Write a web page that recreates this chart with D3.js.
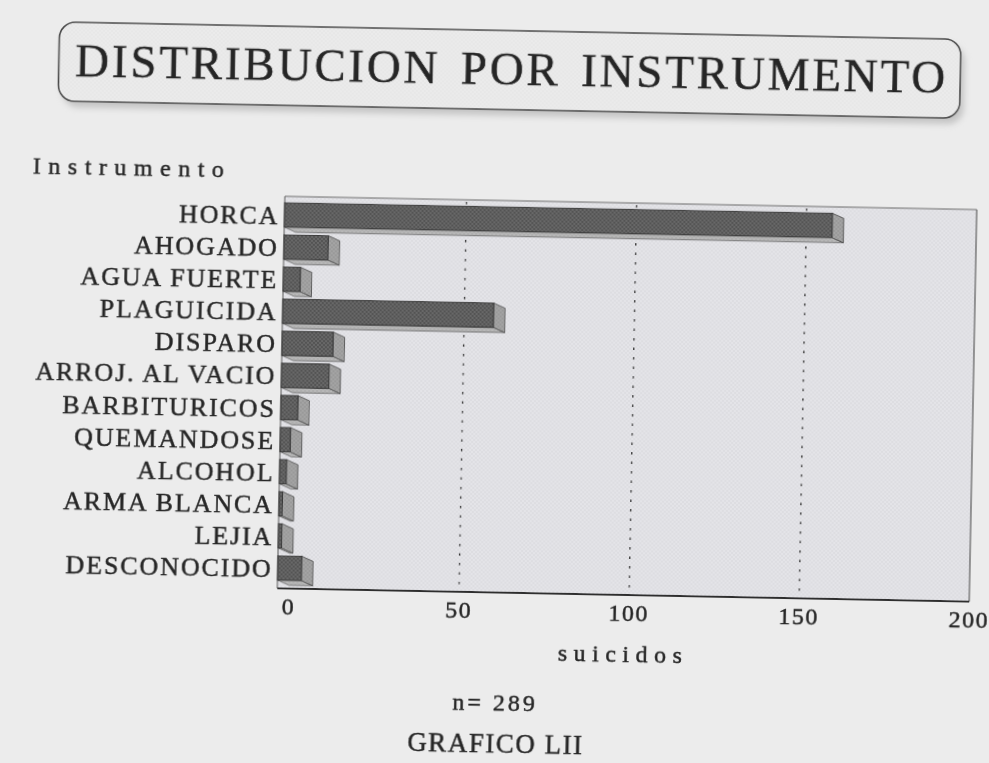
<!DOCTYPE html>
<html>
<head>
<meta charset="utf-8">
<script src="https://cdn.jsdelivr.net/npm/d3@7"></script>
<style>
  html, body { margin: 0; padding: 0; background: #ececec; }
  svg { display: block; }
  text { font-family: "Liberation Serif", "Times New Roman", serif; fill: #262626;
         stroke: #262626; stroke-width: 0.45; paint-order: stroke; }
</style>
</head>
<body>
<svg id="chart" width="989" height="763"></svg>
<script>
// Suicides by method (n = 289)
const categories = ["HORCA", "AHOGADO", "AGUA FUERTE", "PLAGUICIDA", "DISPARO", "ARROJ. AL VACIO",
                    "BARBITURICOS", "QUEMANDOSE", "ALCOHOL", "ARMA BLANCA", "LEJIA", "DESCONOCIDO"];
const suicidos = [161, 13, 5, 62, 15, 14, 5, 3, 2, 1, 1, 7];
const xTicks = [0, 50, 100, 150, 200];
const gridTicks = [50, 100, 150];
const titleText = "DISTRIBUCION POR INSTRUMENTO";
const yAxisTitle = "Instrumento";
const xAxisTitle = "suicidos";
const totalLabel = "n= 289";
const figureLabel = "GRAFICO LII";

const W = 989, H = 763;
const depth = { dx: 11.5, dy: 5 };                 // 3-D extrusion of bars / back wall
const frame = { x0: 281, x1: 973, y0: 203, y1: 595 };

const svg = d3.select("#chart");
const defs = svg.append("defs");

// halftone-like dot textures
function dotPattern(id, base, dot, size, r) {
  const p = defs.append("pattern").attr("id", id).attr("patternUnits", "userSpaceOnUse")
    .attr("width", size).attr("height", size);
  p.append("rect").attr("width", size).attr("height", size).attr("fill", base);
  p.append("circle").attr("cx", size * 0.25).attr("cy", size * 0.25).attr("r", r).attr("fill", dot);
  p.append("circle").attr("cx", size * 0.75).attr("cy", size * 0.75).attr("r", r).attr("fill", dot);
}
dotPattern("frontTex", "#686868", "#4a4a4a", 4, 0.9);
dotPattern("sideTex", "#a4a4a4", "#8c8c8c", 4, 0.8);
dotPattern("bottomTex", "#b8b8b8", "#a4a4a4", 4, 0.8);
dotPattern("wallTex", "#e4e4e8", "#d5d5da", 4, 0.8);
dotPattern("boxTex", "#ebebeb", "#e0e0e0", 4, 0.7);

const soft = defs.append("filter").attr("id", "soft");
soft.append("feGaussianBlur").attr("stdDeviation", 0.45);
const shadow = defs.append("filter").attr("id", "shadow").attr("x", "-5%").attr("y", "-20%")
  .attr("width", "110%").attr("height", "150%");
shadow.append("feGaussianBlur").attr("stdDeviation", 3);

svg.append("rect").attr("width", W).attr("height", H).attr("fill", "#ececec");

// whole sheet sits slightly skewed on the scanner
const g = svg.append("g").attr("transform", "rotate(1.1, 630, 400)").attr("filter", "url(#soft)");

// ---- title banner ----
const box = { x: 52.5, y: 33, w: 901.5, h: 79, r: 16 };
g.append("rect").attr("x", box.x + 4).attr("y", box.y + 6).attr("width", box.w).attr("height", box.h)
  .attr("rx", box.r).attr("fill", "#c4c4c4").attr("filter", "url(#shadow)");
g.append("rect").attr("x", box.x).attr("y", box.y).attr("width", box.w).attr("height", box.h)
  .attr("rx", box.r).attr("fill", "url(#boxTex)").attr("stroke", "#4a4a4a").attr("stroke-width", 1.6);
g.append("text").attr("x", box.x + box.w / 2 + 2).attr("y", 87)
  .attr("text-anchor", "middle").attr("font-size", 47)
  .attr("letter-spacing", 2.8).attr("word-spacing", 6)
  .style("stroke-width", 0.6)
  .text(titleText);

// ---- scales ----
const x = d3.scaleLinear().domain([0, 200]).range([frame.x0, frame.x1 - depth.dx]);
const y = d3.scaleBand().domain(categories).range([205.5, 590.7])
  .paddingInner(0.24).paddingOuter(0.12);

// ---- plot frame (back wall) ----
g.append("rect").attr("x", frame.x0).attr("y", frame.y0)
  .attr("width", frame.x1 - frame.x0).attr("height", frame.y1 - frame.y0)
  .attr("fill", "url(#wallTex)");

g.selectAll("line.grid").data(gridTicks).join("line").attr("class", "grid")
  .attr("x1", d => x(d) + depth.dx).attr("x2", d => x(d) + depth.dx)
  .attr("y1", frame.y0 + 2).attr("y2", frame.y1)
  .attr("stroke", "#383838").attr("stroke-width", 1.4).attr("stroke-dasharray", "2.5,7");

g.append("line").attr("x1", frame.x0).attr("x2", frame.x1).attr("y1", frame.y0).attr("y2", frame.y0)
  .attr("stroke", "#6a6a6a").attr("stroke-width", 1.2);
g.append("line").attr("x1", frame.x1).attr("x2", frame.x1).attr("y1", frame.y0).attr("y2", frame.y1)
  .attr("stroke", "#5a5a5a").attr("stroke-width", 1.2);
g.append("line").attr("x1", frame.x0).attr("x2", frame.x0).attr("y1", frame.y0).attr("y2", frame.y1)
  .attr("stroke", "#555").attr("stroke-width", 1);
g.append("line").attr("x1", frame.x0).attr("x2", frame.x1).attr("y1", frame.y1).attr("y2", frame.y1)
  .attr("stroke", "#2e2e2e").attr("stroke-width", 1.8);

// ---- 3-D bars ----
const bars = g.selectAll("g.bar").data(categories.map((c, i) => ({ c, v: suicidos[i] })))
  .join("g").attr("class", "bar");

bars.append("polygon")   // underside
  .attr("points", d => {
    const x0 = x(0), x1 = x(d.v), yb = y(d.c) + y.bandwidth();
    return [[x0, yb], [x1, yb], [x1 + depth.dx, yb + depth.dy], [x0 + depth.dx, yb + depth.dy]].join(" ");
  })
  .attr("fill", "url(#bottomTex)").attr("stroke", "#555").attr("stroke-width", 0.7);

bars.append("polygon")   // end face
  .attr("points", d => {
    const x1 = x(d.v), yt = y(d.c), yb = yt + y.bandwidth();
    return [[x1, yt], [x1 + depth.dx, yt + depth.dy], [x1 + depth.dx, yb + depth.dy], [x1, yb]].join(" ");
  })
  .attr("fill", "url(#sideTex)").attr("stroke", "#444").attr("stroke-width", 0.8);

bars.append("rect")      // front face
  .attr("x", x(0)).attr("y", d => y(d.c))
  .attr("width", d => x(d.v) - x(0)).attr("height", y.bandwidth())
  .attr("fill", "url(#frontTex)").attr("stroke", "#333").attr("stroke-width", 0.9);

// ---- category labels ----
g.selectAll("text.cat").data(categories).join("text").attr("class", "cat")
  .attr("x", 276).attr("y", d => y(d) + y.bandwidth() / 2)
  .attr("dy", "0.36em").attr("text-anchor", "end")
  .attr("font-size", 26).attr("letter-spacing", 1.9)
  .text(d => d);

// ---- value axis labels ----
g.selectAll("text.tick").data(xTicks).join("text").attr("class", "tick")
  .attr("x", d => x(d) + depth.dx).attr("y", 621)
  .attr("text-anchor", "middle").attr("font-size", 24).attr("letter-spacing", 1.5)
  .text(d => d);

g.append("text").attr("x", 28.6).attr("y", 184.5)
  .attr("font-size", 24).attr("letter-spacing", 7.5).text(yAxisTitle);

g.append("text").attr("x", 628).attr("y", 662)
  .attr("text-anchor", "middle").attr("font-size", 24).attr("letter-spacing", 6.5).text(xAxisTitle);

g.append("text").attr("x", 501).attr("y", 712.6)
  .attr("text-anchor", "middle").attr("font-size", 24).attr("letter-spacing", 3).text(totalLabel);

g.append("text").attr("x", 502).attr("y", 754.6)
  .attr("text-anchor", "middle").attr("font-size", 27).attr("letter-spacing", 1.5).text(figureLabel);
</script>
</body>
</html>
